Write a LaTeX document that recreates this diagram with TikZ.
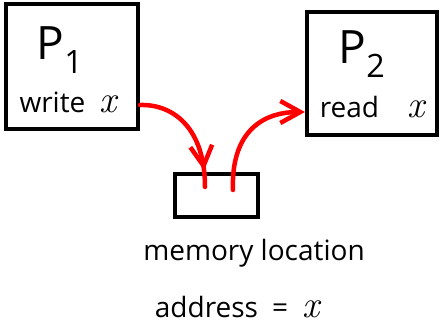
\documentclass[tikz,border=0pt]{standalone}
\usepackage{fontspec}
\setmainfont{Open Sans}
\newfontfamily\lmfont{Latin Modern Roman}
\newcommand\varx{{\lmfont\itshape\fontsize{38}{40}\selectfont x}}
\usetikzlibrary{arrows.meta,decorations.markings}

\begin{document}
\begin{tikzpicture}[x=1pt,y=-1pt,>={Straight Barb[length=20pt,width=22pt]},
    box/.style={draw=black,line width=4pt,inner sep=0pt},
    proc/.style={inner sep=0pt,font=\fontsize{46}{50}\selectfont},
    txt/.style={anchor=base,inner sep=0pt,font=\fontsize{28}{30}\selectfont},
    flow/.style={draw=red,line width=4.5pt,line cap=round}]
    \useasboundingbox (0,0) rectangle (440,333);
    % the two processes and the shared cell
    \node[box,minimum width=132pt,minimum height=125pt] (p1) at (72,66.5) {};
    \node[box,minimum width=130pt,minimum height=123pt] (p2) at (372,73.5) {};
    \node[box,minimum width=83pt,minimum height=43pt] (mem) at (216.5,195.5) {};
    \node[proc] (p1name) at (60,50) {P\textsubscript{1}};
    \node[proc] (p2name) at (362,54) {P\textsubscript{2}};
    \node[txt] (wr) at (68,112) {write\enspace\varx};
    \node[txt] (rd) at (372,117) {read\quad\varx};
    \node[txt] (loc) at (254,260) {memory location};
    \node[txt] (addr) at (237,317) {address\enspace=\enspace\varx};
    % write goes down into the cell, read comes back up
    \path[flow,postaction={decorate},
        decoration={markings,mark=at position 0.86 with {\arrow{>}}}]
        ([yshift=-38.5pt]p1.east) .. controls (175,104) and (205,130)
        .. ([shift={(-11.5,-8.5)}]mem.center);
    \path[flow,->] ([shift={(16.5,-5.5)}]mem.center) .. controls (231,140) and (255,112)
        .. ([shift={(0,38.5)}]p2.west);
\end{tikzpicture}
\end{document}
